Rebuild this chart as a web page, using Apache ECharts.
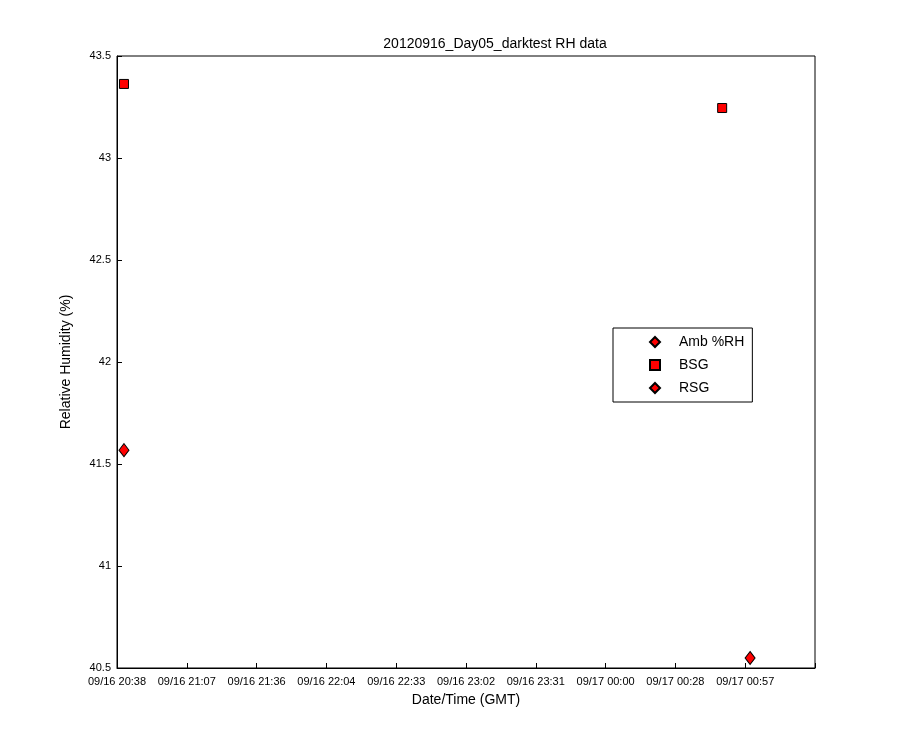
<!DOCTYPE html>
<html><head><meta charset="utf-8">
<script src="https://cdn.jsdelivr.net/npm/echarts@6/dist/echarts.min.js"></script>
<style>html,body{margin:0;background:#fff}#c{width:900px;height:750px}</style>
</head><body><div id="c"></div>
<script>
// x in hundredths of a day (day 16 = 0, so 86 = 09/16 20:38)
const ambData = [[86.2, 41.568]];
const bsgData = [[86.2, 43.363], [103.34, 43.245]];
const rsgData = [[104.14, 40.549]];
const seriesNames = ['Amb %RH', 'BSG', 'RSG'];

function fmt(v) {
  const mins = Math.floor(v / 100 * 1440 + 1e-6);
  const day = 16 + Math.floor(mins / 1440);
  const m = mins % 1440;
  const hh = String(Math.floor(m / 60)).padStart(2, '0');
  const mm = String(m % 60).padStart(2, '0');
  return '09/' + day + ' ' + hh + ':' + mm;
}
const font = 'Arial, "Liberation Sans", sans-serif';
const chart = echarts.init(document.getElementById('c'));
const mk = (name, data, sym, size) => ({
  name, type: 'scatter', data, symbol: sym, symbolSize: size,
  itemStyle: { color: '#ff0000', opacity: 1, borderColor: '#000', borderWidth: 1 }
});
chart.setOption({
  animation: false,
  title: { text: '20120916_Day05_darktest RH data', left: 490, top: 32, textAlign: 'center',
    textStyle: { fontFamily: font, fontSize: 14, fontWeight: 'normal', color: '#000' } },
  grid: { left: 117, right: 85, top: 56, bottom: 82, show: true, borderColor: '#000', borderWidth: 1 },
  legend: { left: 613, top: 328, orient: 'vertical', itemGap: 9, padding: [7, 8, 7, 36], width: 120,
    backgroundColor: '#fff', borderColor: '#000', borderWidth: 1, itemWidth: 10, itemHeight: 10,
    textStyle: { fontFamily: font, fontSize: 14, color: '#000', padding: [0, 0, 0, 14] },
    data: [{ name: seriesNames[0], icon: 'diamond' }, { name: seriesNames[1], icon: 'rect' }, { name: seriesNames[2], icon: 'diamond' }] },
  xAxis: { type: 'value', min: 86, max: 106, interval: 2,
    name: 'Date/Time (GMT)', nameLocation: 'middle', nameGap: 25,
    nameTextStyle: { fontFamily: font, fontSize: 14, color: '#000' },
    axisLine: { lineStyle: { color: '#000' } },
    axisTick: { inside: true, length: 5, lineStyle: { color: '#000' } },
    splitLine: { show: false },
    axisLabel: { fontFamily: font, fontSize: 11, color: '#000', margin: 8,
      formatter: v => v >= 105.9 ? '' : fmt(v) } },
  yAxis: { type: 'value', min: 40.5, max: 43.5, interval: 0.5,
    name: 'Relative Humidity (%)', nameLocation: 'middle', nameGap: 44,
    nameTextStyle: { fontFamily: font, fontSize: 14, color: '#000' },
    axisLine: { lineStyle: { color: '#000' } },
    axisTick: { inside: true, length: 5, lineStyle: { color: '#000' } },
    splitLine: { show: false },
    axisLabel: { fontFamily: font, fontSize: 11, color: '#000', margin: 6 } },
  series: [mk(seriesNames[0], ambData, 'diamond', [10, 13]), mk(seriesNames[1], bsgData, 'rect', 9), mk(seriesNames[2], rsgData, 'diamond', [10, 13])]
});
</script></body></html>
